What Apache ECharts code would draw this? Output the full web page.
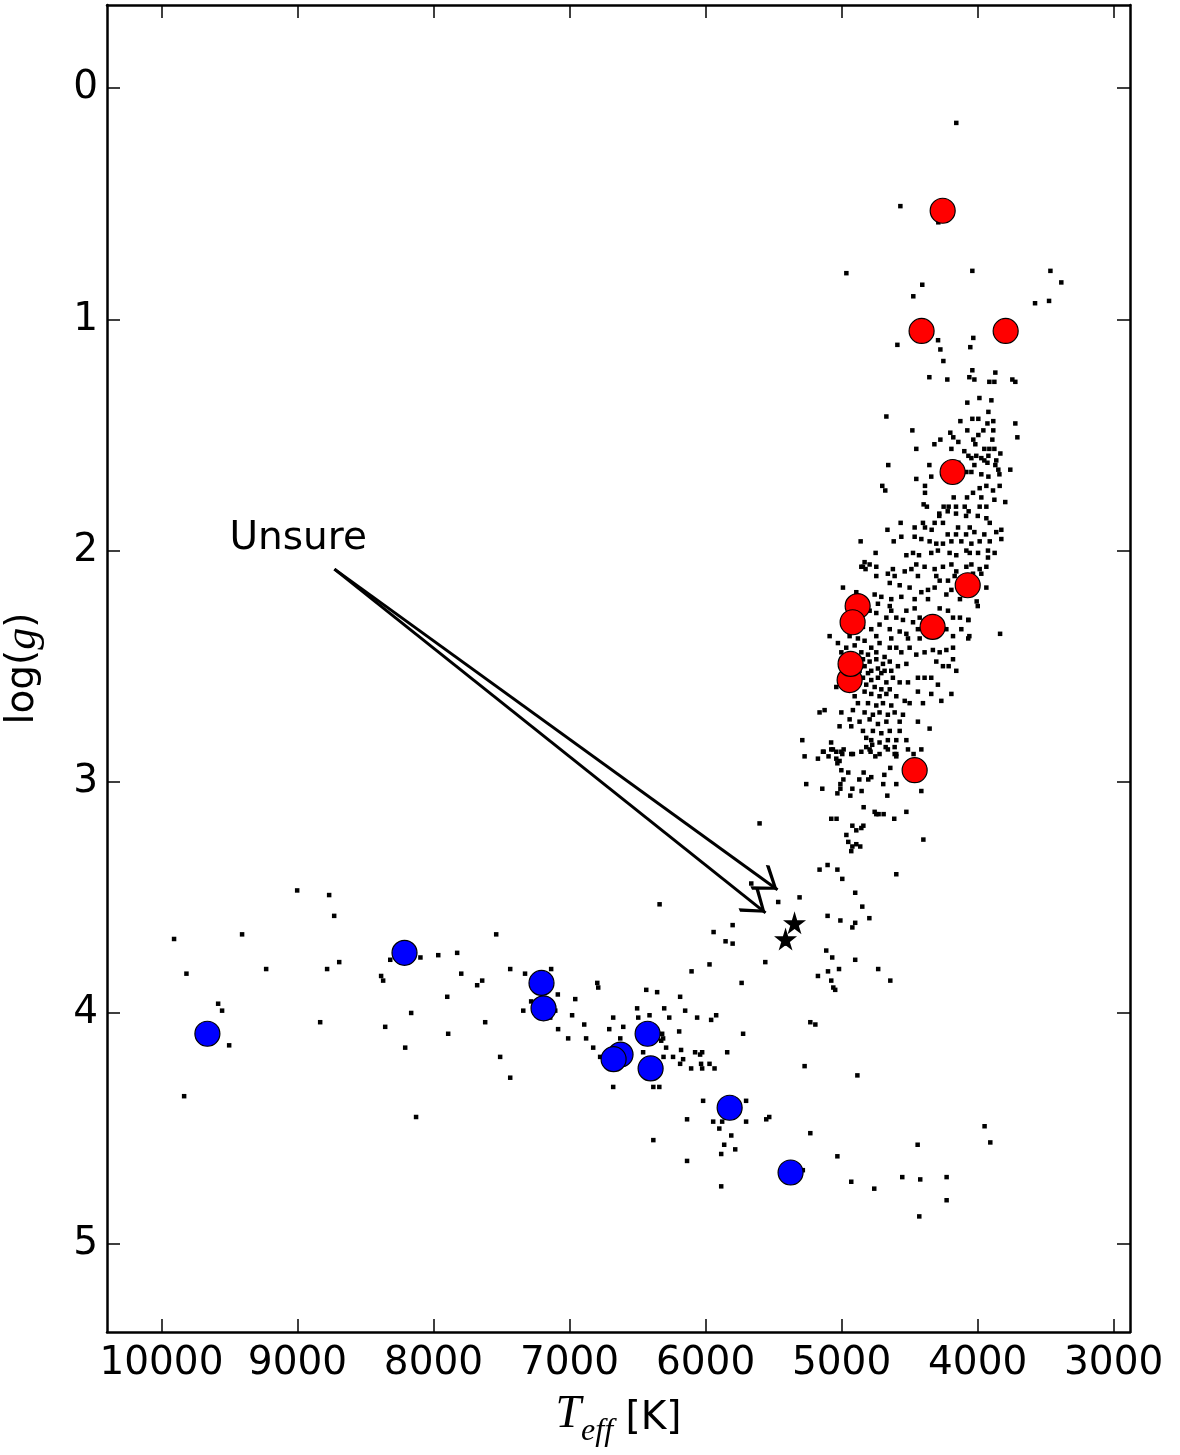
<!DOCTYPE html>
<html>
<head>
<meta charset="utf-8">
<script src="https://cdn.jsdelivr.net/npm/echarts@6/dist/echarts.min.js"></script>
<style>
  html, body { margin: 0; padding: 0; background: #fff; }
  #chart { width: 1180px; height: 1455px; }
</style>
</head>
<body>
<div id="chart"></div>
<script>
// tick labels
const xTicks = [3000, 4000, 5000, 6000, 7000, 8000, 9000, 10000];
const yTicks = [0, 1, 2, 3, 4, 5];

// field stars [Teff, logg]
const fieldStars = [
  [4157,0.15],[4568,0.51],[4289,0.58],[4965,0.80],[4039,0.79],[3465,0.79],[3385,0.84],[4407,0.85],[4473,0.90],[3578,0.93],[3475,0.92],
  [4032,1.08],[4291,1.09],[4590,1.11],[4054,1.12],[4274,1.13],[4252,1.18],[4039,1.22],[3870,1.23],[4355,1.25],[4223,1.26],[4061,1.25],[4024,1.26],[3914,1.27],[3877,1.27],[3745,1.26],[3723,1.27],
  [3987,1.34],[3899,1.35],[4076,1.36],[4671,1.42],[3921,1.40],[4127,1.44],[4039,1.43],[3995,1.43],[3885,1.44],[3723,1.45],[3928,1.45],[4480,1.48],[4076,1.48],[3958,1.48],[3885,1.48],[4201,1.49],[3995,1.50],[4274,1.52],[4179,1.51],[4032,1.52],[3892,1.52],[3708,1.51],
  [4451,1.56],[4318,1.54],[4193,1.56],[4142,1.53],[4017,1.54],[3951,1.56],[3914,1.56],[3877,1.56],[3833,1.58],[4657,1.63],[4098,1.57],[4068,1.59],[4010,1.59],[4046,1.60],[3973,1.60],[3951,1.61],[3921,1.59],[3863,1.61],[4355,1.63],[4142,1.62],[4024,1.63],[3928,1.62],[3870,1.63],[3760,1.65],[4451,1.69],[4341,1.68],[4083,1.66],[4046,1.66],[3973,1.67],[3921,1.68],[3848,1.65],[3840,1.67],
  [4701,1.72],[4679,1.74],[4387,1.72],[4387,1.75],[4176,1.77],[4078,1.77],[4034,1.75],[3985,1.73],[3936,1.72],[3887,1.74],[3838,1.72],[3973,1.77],[3877,1.78],[3797,1.79],[4397,1.80],[4373,1.81],[4250,1.81],[4213,1.81],[4159,1.81],[4095,1.81],[4066,1.83],[3985,1.81],[3936,1.81],[4282,1.84],[4220,1.83],[4159,1.84],[4085,1.85],[3999,1.85],[4282,1.85],
  [4566,1.88],[4463,1.90],[4402,1.88],[4316,1.88],[4255,1.88],[4144,1.90],[4058,1.90],[3936,1.86],[3911,1.88],[4663,1.91],[4387,1.90],[4338,1.91],[4220,1.93],[4159,1.93],[4085,1.93],[4024,1.92],[3951,1.93],[3863,1.92],[3826,1.91],
  [4617,1.96],[4561,1.94],[4463,1.94],[4414,1.95],[4353,1.96],[4304,1.97],[4255,1.97],[4193,1.96],[4120,1.96],[4046,1.97],[3985,1.96],[3911,1.96],[3826,1.95],[4524,2.02],[4475,2.01],[4431,2.02],[4341,2.01],[4292,2.00],[4206,2.01],[4157,2.02],[4083,2.00],[4058,2.01],[3997,2.01],[3924,2.00],[3875,2.01],
  [4860,1.96],[4750,2.01],[4831,2.05],[4794,2.06],[4843,2.07],[4745,2.07],[4824,2.08],[3924,2.03],[3999,2.24],[4068,2.30],[4061,2.37],[4213,2.50],[4157,2.52],[3835,2.36],
  [4855,2.07],[4623,2.08],[4536,2.09],[4487,2.08],[4451,2.06],[4390,2.07],[4316,2.08],[4255,2.07],[4193,2.06],[4157,2.09],[4083,2.07],[4046,2.06],[3985,2.08],[3936,2.07],[3973,2.10],
  [4745,2.11],[4660,2.10],[4610,2.11],[4439,2.11],[4304,2.11],[4279,2.13],[4218,2.13],[4169,2.11],[4034,2.10],[4990,2.16],[4646,2.14],[4573,2.15],[4500,2.16],[4414,2.18],[4365,2.17],[4316,2.16],[4230,2.19],[4193,2.17],[3936,2.16],
  [4892,2.18],[4757,2.19],[4708,2.20],[4635,2.21],[4561,2.20],[4463,2.21],[4365,2.21],[4130,2.21],[4007,2.22],[4733,2.23],[4646,2.24],
  [4794,2.26],[4745,2.27],[4635,2.26],[4524,2.26],[4463,2.25],[4279,2.25],[4218,2.26],[4181,2.29],[4130,2.29],[4069,2.30],[4671,2.29],[4598,2.29],[4549,2.30],[4475,2.31],[4426,2.29],
  [4843,2.33],[4782,2.34],[4721,2.32],[4646,2.34],[4573,2.35],[4524,2.36],[4439,2.34],[4230,2.34],[4181,2.37],[4120,2.34],[4069,2.38],[5088,2.37],[4941,2.37],[4880,2.38],[4745,2.37],[4635,2.38],[4512,2.38],[4426,2.38],
  [5027,2.40],[4966,2.42],[4904,2.41],[4831,2.39],[4782,2.42],[4721,2.40],[4646,2.42],[4598,2.42],[4561,2.44],[4500,2.42],[4451,2.45],[4390,2.44],[4329,2.43],[4279,2.44],[4230,2.43],[4181,2.42],[5002,2.44],[4855,2.44],[4806,2.45],[4745,2.44],[4684,2.46],
  [4843,2.47],[4794,2.48],[4745,2.47],[4696,2.49],[4646,2.48],[4586,2.50],[4524,2.49],[4304,2.48],[4255,2.50],[4181,2.47],[4831,2.50],[4782,2.52],[4733,2.51],[4684,2.52],[4635,2.52],[4868,2.52],[4806,2.53],[4708,2.53],[5039,2.59],
  [4843,2.55],[4782,2.56],[4733,2.55],[4671,2.57],[4623,2.55],[4573,2.57],[4512,2.57],[4439,2.55],[4390,2.55],[4341,2.55],[4292,2.58],[4819,2.58],[4757,2.59],[4708,2.60],[4646,2.60],[4831,2.61],[4868,2.57],
  [4782,2.62],[4721,2.63],[4671,2.62],[4598,2.63],[4536,2.65],[4439,2.61],[4341,2.62],[4193,2.62],[4904,2.63],[4880,2.66],[4806,2.66],[4745,2.67],[4696,2.66],[4635,2.67],[4500,2.66],[4402,2.66],[4267,2.65],
  [5162,2.70],[5125,2.69],[5002,2.70],[4917,2.69],[4831,2.70],[4770,2.71],[4721,2.70],[4660,2.71],[4610,2.70],[4549,2.71],[4941,2.73],[4868,2.74],[4794,2.73],[4733,2.75],[4671,2.74],[4573,2.74],[4439,2.74],
  [5015,2.76],[4929,2.76],[4843,2.78],[4770,2.78],[4708,2.79],[4646,2.78],[4573,2.78],[4353,2.77],[5289,2.82],[5077,2.83],[4819,2.81],[4782,2.82],[4721,2.83],[4660,2.82],[4598,2.82],[4524,2.82],
  [5137,2.87],[5064,2.86],[5002,2.87],[4917,2.88],[4855,2.87],[4794,2.86],[4721,2.88],[4660,2.86],[4598,2.88],[4512,2.86],[4414,2.86],[5174,2.90],[5039,2.90],
  [5272,2.89],[5132,2.87],[5096,2.89],[5076,2.86],[5039,2.87],[4985,2.86],[4995,2.88],[4929,2.88],[4819,2.85],[4787,2.87],[4775,2.84],[4752,2.89],[4676,2.85],[4610,2.85],[4610,2.88],[4598,2.89],[4471,2.88],
  [5031,2.92],[5015,2.91],[5002,2.95],[4951,2.96],[4838,2.96],[4686,2.97],[4642,2.94],
  [5260,3.01],[5142,3.03],[5031,3.05],[5009,3.01],[5009,3.03],[4987,2.99],[4936,3.06],[4921,3.03],[4870,2.99],[4853,3.04],[4804,2.99],[4782,2.98],[4694,3.01],[4664,3.06],[4598,3.01],[4414,3.04],
  [4838,3.11],[4757,3.13],[4745,3.14],[4728,3.14],[4691,3.14],[4613,3.16],[4524,3.13],[5076,3.16],[5037,3.16],[5603,3.18],[4921,3.19],[4892,3.21],[4855,3.20],[4840,3.19],
  [4965,3.23],[4951,3.26],[4921,3.28],[4892,3.27],[4863,3.28],[4929,3.30],[4399,3.25],
  [5162,3.38],[5103,3.36],[5031,3.38],[4995,3.42],[4598,3.40],[5309,3.50],[5466,3.52],[4900,3.48],[4848,3.54],[5103,3.58],[5009,3.60],[4900,3.61],[4921,3.63],[4796,3.59],
  [5408,3.70],[5561,3.78],[5113,3.73],[5069,3.76],[4900,3.77],[4731,3.81],[5174,3.84],[5100,3.82],[5019,3.81],[5076,3.86],[4642,3.86],[5061,3.89],[5047,3.90],[5230,4.04],[5193,4.05],
  [5664,3.44],[6338,3.53],[7539,3.66],[5941,3.65],[5801,3.62],[5853,3.69],[5801,3.70],[5971,3.79],[6103,3.82],[5735,3.87],[7436,3.81],[7327,3.83],[7135,3.81],[7642,3.86],[7679,3.88],[7086,3.92],[7282,3.95],[6958,3.94],[6796,3.87],[6789,3.89],
  [7340,3.99],[7105,3.99],[7142,4.02],[6981,4.01],[7620,4.04],[6892,4.05],[7084,4.07],[7010,4.11],[6878,4.11],[6826,4.15],[6775,4.19],[7510,4.19],[7436,4.28],
  [6679,4.02],[6708,4.07],[6605,4.06],[6627,4.11],[6503,3.98],[6495,4.02],[6436,3.90],[6356,3.91],[6412,4.01],[6304,3.98],[6267,4.02],[6319,4.09],[6312,4.11],[6326,4.12],[6290,4.15],[6187,3.93],[6150,3.99],[6194,4.08],[6062,4.02],[5959,4.03],[5922,4.01],
  [6180,4.16],[6165,4.20],[6187,4.22],[6239,4.19],[6459,4.17],[6309,4.19],[6106,4.24],[6077,4.17],[6040,4.18],[6025,4.17],[6033,4.22],[6025,4.24],[5971,4.22],[5934,4.24],[5841,4.17],[5724,4.09],
  [6384,4.32],[6340,4.32],[6679,4.32],[6018,4.38],[6136,4.46],[5944,4.47],[5878,4.47],[5702,4.38],[5702,4.47],[5899,4.50],[5811,4.53],[5554,4.46],[5532,4.45],[5863,4.57],[5782,4.59],[5885,4.61],[6384,4.55],[6136,4.64],[5885,4.75],
  [9002,3.47],[8767,3.49],[8730,3.58],[9907,3.68],[9407,3.66],[9816,3.83],[9230,3.81],[8782,3.81],[8693,3.78],[8318,3.77],[8385,3.84],[8370,3.86],[8096,3.76],[7965,3.75],[7826,3.74],[7796,3.83],[7899,3.93],
  [9583,3.96],[9554,3.99],[8833,4.04],[8164,4.00],[8355,4.06],[7892,4.09],[8208,4.15],[9502,4.14],[9833,4.36],[8128,4.45],
  [5272,4.23],[4884,4.27],[5230,4.52],[5031,4.62],[5285,4.68],[4929,4.73],[4760,4.76],[4554,4.71],[4422,4.72],[4228,4.71],[4228,4.81],[4429,4.88],[4441,4.57],[3949,4.49],[3907,4.56]
];

// giants (red) and dwarfs (blue)
const redStars = [[4257,0.53],[4412,1.05],[3794,1.05],[4184,1.66],[4073,2.15],[4882,2.24],[4919,2.31],[4331,2.33],[4941,2.56],[4934,2.49],[4463,2.95]];
const blueStars = [[9662,4.09],[8213,3.74],[7206,3.87],[7191,3.98],[6426,4.09],[6625,4.18],[6676,4.20],[6404,4.24],[5823,4.41],[5375,4.69]];
const unsureStars = [[5346,3.61],[5412,3.68]];

// annotation
const noteText = 'Unsure';
const notePos = [9500, 2.0];
const arrowStart = [8728, 2.08];
const arrowTips = [[5471, 3.467], [5559, 3.567]];

const chart = echarts.init(document.getElementById('chart'), null, { renderer: 'canvas' });

const FONT = 'DejaVu Sans';
const black = '#000';
const starPath = 'path://M50,0 L61,35 L98,35 L68,57 L79,91 L50,70 L21,91 L32,57 L2,35 L39,35 Z';
// open arrow head, tip placed at the symbol centre so the line ends at the tip
const headPath = 'path://M50,0 L50,0 Z M50,50 L100,93 L94,100 L50,61 L6,100 L0,93 Z';

function baseX(pos, labels) {
  return {
    type: 'value', min: 2880, max: 10400, inverse: true, position: pos,
    axisLine: { show: true, onZero: false, lineStyle: { color: black, width: 2.5 } },
    axisTick: { show: true, inside: true, length: 13, customValues: xTicks, lineStyle: { color: black, width: 1.5 } },
    axisLabel: {
      show: labels, customValues: xTicks, margin: 12, fontSize: 39, fontFamily: FONT, color: black,
      formatter: v => String(v)
    },
    splitLine: { show: false }
  };
}
function baseY(pos, labels) {
  return {
    type: 'value', min: -0.36, max: 5.38, inverse: true, position: pos,
    axisLine: { show: true, onZero: false, lineStyle: { color: black, width: 2.5 } },
    axisTick: { show: true, inside: true, length: 13, customValues: yTicks, lineStyle: { color: black, width: 1.5 } },
    axisLabel: { show: labels, customValues: yTicks, margin: 9, fontSize: 39, fontFamily: FONT, color: black },
    splitLine: { show: false }
  };
}

const xMain = baseX('bottom', true);
xMain.name = '{t|T}{s|eff}{k| [K]}';
xMain.nameLocation = 'middle';
xMain.nameGap = 60;
xMain.nameTextStyle = {
  rich: {
    t: { fontFamily: 'Liberation Serif', fontStyle: 'italic', fontSize: 46, color: black, padding: [0, 0, 10, 0], verticalAlign: 'bottom' },
    s: { fontFamily: 'Liberation Serif', fontStyle: 'italic', fontSize: 32, color: black, verticalAlign: 'bottom' },
    k: { fontFamily: FONT, fontSize: 39, color: black, padding: [0, 0, 10, 0], verticalAlign: 'bottom' }
  }
};
const yMain = baseY('left', true);
yMain.name = '{a|log(}{g|g}{a|)}';
yMain.nameLocation = 'middle';
yMain.nameGap = 62;
yMain.nameTextStyle = {
  rich: {
    a: { fontFamily: FONT, fontSize: 39, color: black },
    g: { fontFamily: 'Liberation Serif', fontStyle: 'italic', fontSize: 44, color: black }
  }
};

const option = {
  backgroundColor: '#fff',
  animation: false,
  grid: { left: 107, right: 50, top: 5, bottom: 123, show: false, containLabel: false, outerBoundsMode: 'none' },
  xAxis: [xMain, baseX('top', false)],
  yAxis: [yMain, baseY('right', false)],
  series: [
    {
      type: 'scatter', data: fieldStars, symbol: 'rect', symbolSize: 4.5,
      itemStyle: { color: black, opacity: 1 }, silent: true
    },
    {
      type: 'scatter', data: redStars, symbol: 'circle', symbolSize: 25,
      itemStyle: { color: '#ff0000', borderColor: black, borderWidth: 1.2, opacity: 1 }, silent: true
    },
    {
      type: 'scatter', data: blueStars, symbol: 'circle', symbolSize: 25,
      itemStyle: { color: '#0000ff', borderColor: black, borderWidth: 1.2, opacity: 1 }, silent: true
    },
    {
      type: 'scatter', data: unsureStars, symbol: starPath, symbolSize: 23,
      itemStyle: { color: black, opacity: 1 }, silent: true,
      markLine: {
        silent: true, animation: false,
        symbol: ['none', headPath], symbolSize: [30, 48],
        lineStyle: { color: black, width: 3, type: 'solid', opacity: 1 },
        itemStyle: { color: black },
        label: { show: false },
        data: arrowTips.map(e => [{ coord: arrowStart }, { coord: e }])
      }
    },
    {
      type: 'scatter', data: [notePos], symbolSize: 0, silent: true,
      itemStyle: { opacity: 1 },
      label: {
        show: true, formatter: noteText, position: [0, 0], align: 'left', verticalAlign: 'bottom',
        fontFamily: FONT, fontSize: 39, color: black, opacity: 1, offset: [0, 8]
      }
    }
  ]
};
chart.setOption(option);
</script>
</body>
</html>
